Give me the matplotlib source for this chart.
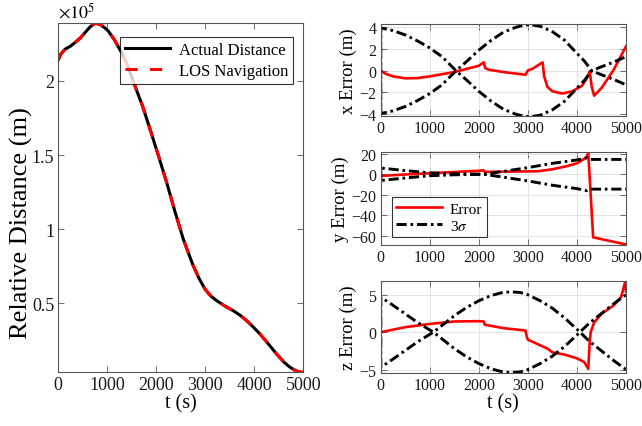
import matplotlib
matplotlib.use("Agg")
import matplotlib.pyplot as plt
from matplotlib.ticker import FuncFormatter, FixedLocator

plt.rcParams['font.family'] = ['Liberation Serif', 'DejaVu Serif']
plt.rcParams['mathtext.fontset'] = 'stix'

# ---------------- data ----------------
t_dist = [0, 50, 137, 250, 341, 450, 545, 650, 750, 850, 950, 1020, 1150, 1294, 1430,
          1565, 1720, 1872, 2040, 2212, 2380, 2551, 2655, 2755, 2870, 2994, 3110, 3233,
          3400, 3572, 3710, 3845, 3980, 4117, 4290, 4457, 4600, 4729, 4850, 4933, 5000]
dist_e5 = [2.143, 2.18, 2.214, 2.235, 2.259, 2.29, 2.326, 2.365, 2.389, 2.382, 2.358,
           2.337, 2.275, 2.19, 2.09, 1.966, 1.83, 1.675, 1.50, 1.315, 1.12, 0.933, 0.84,
           0.753, 0.67, 0.596, 0.55, 0.518, 0.482, 0.45, 0.42, 0.383, 0.34, 0.293, 0.225,
           0.158, 0.105, 0.069, 0.045, 0.036, 0.035]

# x error
t_ex = [0, 100, 250, 500, 750, 1000, 1500, 2000, 2100, 2130, 2200, 2500, 2950, 3000,
        3100, 3300, 3330, 3400, 3500, 3700, 3900, 4100, 4200, 4260, 4300, 4350, 4500,
        4750, 5000]
err_x = [0, -0.28, -0.52, -0.7, -0.68, -0.52, -0.12, 0.46, 0.77, 0.25, 0.1, -0.12, -0.37,
         0.03, 0.2, 0.77, -0.5, -1.5, -1.9, -2.1, -1.9, -1.4, -0.7, -0.05, -1.45, -2.3,
         -1.6, 0.1, 2.25]
t_sx = [0, 0, 250, 500, 750, 1000, 1250, 1535, 1750, 2000, 2250, 2500, 2750, 2900, 3050,
        3250, 3500, 3750, 4000, 4150, 4300, 4500, 4750, 5000]
sig_x = [-3.95, 3.95, 3.7, 3.3, 2.75, 2.1, 1.3, 0, -0.85, -1.9, -2.8, -3.55, -4.0, -4.18,
         -4.25, -4.1, -3.6, -2.8, -1.6, -0.9, 0, 0.37, 0.8, 1.3]

# y error
t_ey = [0, 500, 1000, 1500, 2000, 2090, 2130, 2500, 3000, 3200, 3500, 3800, 4000, 4100,
        4200, 4230, 4330, 5000]
err_y = [-1.6, -0.2, 1.0, 2.2, 3.4, 3.9, 2.3, 2.6, 2.8, 2.9, 4.9, 8.0, 10.7, 13.6, 17.0,
         21.0, -61.5, -68.5]
t_sy = [0, 0, 500, 1000, 1500, 2100, 2500, 3000, 3500, 4000, 4200, 4260, 5000]
sig_y = [-6.1, 6.1, 3.6, 1.4, 0.5, 0, -2.8, -6.5, -10.7, -14.0, -16.0, -14.5, -14.5]

# z error
t_ez = [0, 500, 1000, 1500, 2000, 2100, 2120, 2500, 2950, 2980, 3000, 3300, 3400, 3500,
        3750, 4000, 4150, 4230, 4260, 4280, 4350, 4500, 4750, 4900, 4985, 5000]
err_z = [0, 0.67, 1.1, 1.43, 1.47, 1.43, 1.0, 0.54, 0.22, -0.67, -1.0, -1.9, -2.2, -2.7,
         -3.0, -3.5, -4.0, -4.9, -1.3, 0, 1.3, 2.45, 3.6, 4.7, 6.8, 5.4]
t_sz = [0, 0, 250, 500, 750, 1073, 1250, 1500, 1750, 2000, 2250, 2450, 2650, 2850, 3000,
        3250, 3500, 3750, 4062, 4250, 4500, 4750, 5000]
sig_z = [-4.7, 4.7, 3.6, 2.45, 1.3, 0, -0.9, -2.2, -3.3, -4.2, -4.9, -5.25, -5.4, -5.3,
         -5.0, -4.2, -3.2, -1.9, 0, 1.2, 2.5, 3.8, 5.0]

x_ticks = [0, 1000, 2000, 3000, 4000, 5000]
dist_ticks = [0.5, 1, 1.5, 2]

# ---------------- figure ----------------
fig = plt.figure(figsize=(6.42, 4.27), dpi=100)
spine_c = '#555555'

def style(ax, tick_fs):
    for s in ax.spines.values():
        s.set_color(spine_c)
        s.set_linewidth(0.8)
    ax.tick_params(direction='in', top=True, right=True, length=4, width=0.6,
                   colors=spine_c, labelcolor='#1a1a1a', labelsize=tick_fs, pad=3)

# left plot
axL = fig.add_axes([0.0908, 0.1258, 0.3816, 0.8173])
axL.plot(t_dist, [v * 1e5 for v in dist_e5], color='black', lw=2.2, label='Actual Distance')
axL.plot(t_dist, [v * 1e5 for v in dist_e5], color='red', lw=2.2, dashes=(4, 4),
         label='LOS Navigation')
axL.set_xlim(0, 5000)
axL.set_ylim(3500, 238900)
axL.xaxis.set_major_locator(FixedLocator(x_ticks))
axL.yaxis.set_major_locator(FixedLocator([v * 1e5 for v in dist_ticks]))
axL.yaxis.set_major_formatter(FuncFormatter(lambda v, p: f'{v / 1e5:g}'))
style(axL, 13)
axL.set_xlabel('t (s)', fontsize=14.5, labelpad=0)
axL.set_ylabel('Relative Distance (m)', fontsize=19, labelpad=4)
axL.yaxis.set_label_coords(-0.105, 0.43)
axL.text(0.0, 1.005, r'$\times10^5$', transform=axL.transAxes, fontsize=13,
         ha='left', va='bottom')
leg = axL.legend(loc='upper right', bbox_to_anchor=(0.958, 0.961), fontsize=12,
                 handlelength=2.7, frameon=True, fancybox=False, borderaxespad=0,
                 borderpad=0.3, labelspacing=0.3, handletextpad=0.5)
leg.get_frame().set_edgecolor('black')
leg.get_frame().set_linewidth(0.8)

# right plots
rx = 0.593
rw = 0.3821
panels = [
    (0.7253, t_ex, err_x, t_sx, sig_x, 'x Error (m)', (-4.2, 4.35), [-4, -2, 0, 2, 4]),
    (0.4239, t_ey, err_y, t_sy, sig_y, 'y Error (m)', (-69, 21.5), [-60, -40, -20, 0, 20]),
    (0.1234, t_ez, err_z, t_sz, sig_z, 'z Error (m)', (-5.5, 6.9), [-5, 0, 5]),
]
axes_r = []
dd = (3.5, 1.3, 0.9, 1.3)
for (b, te, ev, ts, sv, lab, yl, yt) in panels:
    ax = fig.add_axes([rx, b, rw, 0.2172])
    ax.grid(True, color='#e3e3e3', lw=0.7)
    ax.set_axisbelow(True)
    ax.plot(te, ev, color='red', lw=1.9, label='Error')
    ax.plot(ts, sv, color='black', lw=2.1, dashes=dd, label=r'3$\sigma$')
    ax.plot(ts, [-v for v in sv], color='black', lw=2.1, dashes=dd)
    ax.set_xlim(0, 5000)
    ax.set_ylim(*yl)
    ax.xaxis.set_major_locator(FixedLocator(x_ticks))
    ax.yaxis.set_major_locator(FixedLocator(yt))
    style(ax, 11.5)
    ax.set_ylabel(lab, fontsize=13.5, labelpad=2)
    axes_r.append(ax)

axes_r[2].set_xlabel('t (s)', fontsize=14.5, labelpad=0)
leg2 = axes_r[1].legend(loc='lower left', bbox_to_anchor=(0.045, 0.083), fontsize=11,
                        handlelength=3.0, frameon=True, fancybox=False, borderaxespad=0,
                        borderpad=0.3, labelspacing=0.2, handletextpad=0.5)
leg2.get_frame().set_edgecolor('black')
leg2.get_frame().set_linewidth(0.8)

fig.savefig('out.png', dpi=100)
